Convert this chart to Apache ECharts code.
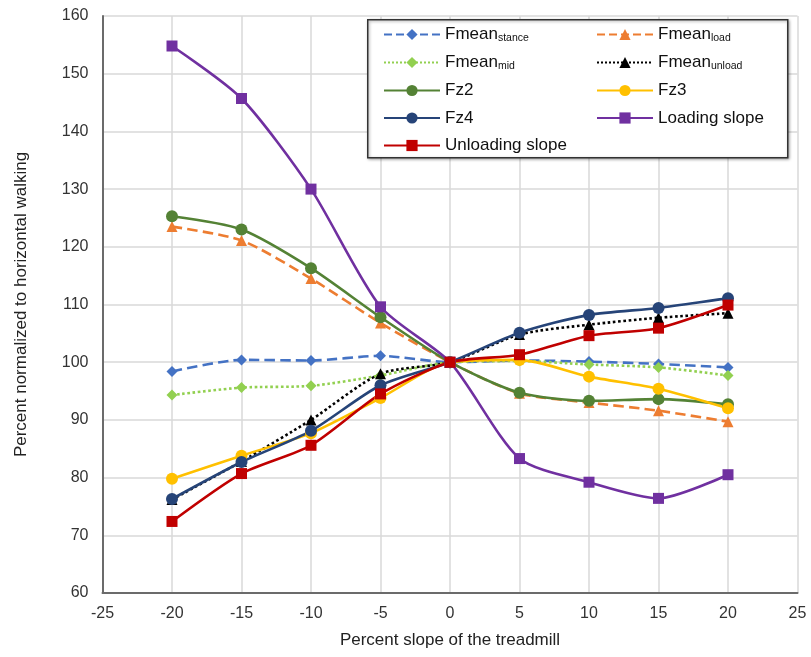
<!DOCTYPE html>
<html><head><meta charset="utf-8">
<script src="https://cdn.jsdelivr.net/npm/echarts@6/dist/echarts.min.js"></script>
<style>html,body{margin:0;padding:0;background:#fff}#c{width:811px;height:657px}</style>
</head><body><div id="c"></div>
<script>
const slopes = [-20, -15, -10, -5, 0, 5, 10, 15, 20];
const fmeanStance = [98.4, 100.4, 100.3, 101.1, 100, 100.3, 100.1, 99.7, 99.1];
const fmeanLoad = [123.5, 121.1, 114.5, 106.8, 100, 94.6, 93.0, 91.6, 89.7];
const fmeanMid = [94.3, 95.6, 95.9, 97.7, 100, 100.2, 99.6, 99.1, 97.7];
const fmeanUnload = [76.2, 82.8, 90.0, 98.0, 100, 104.8, 106.5, 107.7, 108.5];
const fz2 = [125.3, 123.0, 116.3, 107.8, 100, 94.7, 93.3, 93.6, 92.7];
const fz3 = [79.8, 83.8, 87.7, 93.8, 100, 100.4, 97.5, 95.4, 92.0];
const fz4 = [76.3, 82.7, 88.1, 96.0, 100, 105.1, 108.2, 109.4, 111.1];
const loadingSlope = [154.8, 145.7, 130.0, 109.6, 100, 83.3, 79.2, 76.4, 80.5];
const unloadingSlope = [72.4, 80.7, 85.6, 94.5, 100, 101.3, 104.6, 105.9, 109.9];
const xTicks = [-25, -20, -15, -10, -5, 0, 5, 10, 15, 20, 25];
const yTicks = [60, 70, 80, 90, 100, 110, 120, 130, 140, 150, 160];

const seriesDefs = [
  {name: 'Fmean_stance', data: fmeanStance, color: '#4472C4', type: 'dashed', symbol: 'diamond', size: 11},
  {name: 'Fmean_load', data: fmeanLoad, color: '#ED7D31', type: 'dashed', symbol: 'triangle', size: 11},
  {name: 'Fmean_mid', data: fmeanMid, color: '#92D050', type: 'dotted', symbol: 'diamond', size: 11},
  {name: 'Fmean_unload', data: fmeanUnload, color: '#000000', type: 'dotted', symbol: 'triangle', size: 11},
  {name: 'Fz2', data: fz2, color: '#548235', type: 'solid', symbol: 'circle', size: 12},
  {name: 'Fz3', data: fz3, color: '#FFC000', type: 'solid', symbol: 'circle', size: 12},
  {name: 'Fz4', data: fz4, color: '#264478', type: 'solid', symbol: 'circle', size: 12},
  {name: 'Loading slope', data: loadingSlope, color: '#7030A0', type: 'solid', symbol: 'rect', size: 11},
  {name: 'Unloading slope', data: unloadingSlope, color: '#C00000', type: 'solid', symbol: 'rect', size: 11}
];

const series = seriesDefs.map(d => ({
  name: d.name, type: 'line', smooth: 0.25,
  data: slopes.map((x, i) => [x, d.data[i]]),
  symbol: d.symbol, symbolSize: d.size,
  lineStyle: {color: d.color, width: 2.6, type: d.type},
  itemStyle: {color: d.color},
  z: 2
}));

function fmtName(n) {
  const i = n.indexOf('_');
  if (i < 0) return '{a|' + n + '}';
  return '{a|' + n.slice(0, i) + '}{s|' + n.slice(i + 1) + '}';
}
const FF = 'Liberation Sans, Arial, sans-serif';
const legendText = {
  color: '#111', fontFamily: FF, fontSize: 17,
  rich: {
    a: {fontSize: 17, color: '#111', fontFamily: FF, height: 18, verticalAlign: 'bottom'},
    s: {fontSize: 10.5, color: '#111', fontFamily: FF, verticalAlign: 'bottom', padding: [6, 0, 0, 0]}
  }
};
const legendCommon = {
  orient: 'vertical', itemWidth: 56, itemHeight: 14, itemGap: 10.5, z: 10,
  textStyle: legendText, formatter: fmtName, selectedMode: false
};

const chart = echarts.init(document.getElementById('c'));
chart.setOption({
  animation: false,
  backgroundColor: '#fff',
  grid: {left: 102.5, right: 13.5, top: 16, bottom: 64},
  xAxis: {
    type: 'value', min: -25, max: 25, interval: 5,
    name: 'Percent slope of the treadmill', nameLocation: 'middle', nameGap: 39,
    nameTextStyle: {fontSize: 17, color: '#222', fontFamily: FF},
    axisLine: {show: true, onZero: false, lineStyle: {color: '#6b6b6b', width: 2}},
    axisTick: {show: false},
    axisLabel: {fontSize: 16, color: '#333', margin: 13, fontFamily: FF,
      formatter: v => xTicks.includes(v) ? String(v) : ''},
    splitLine: {show: true, lineStyle: {color: '#d9d9d9', width: 1.5}}
  },
  yAxis: {
    type: 'value', min: 60, max: 160, interval: 10,
    name: 'Percent normalized to horizontal walking', nameLocation: 'middle', nameGap: 73,
    nameTextStyle: {fontSize: 17, color: '#222', fontFamily: FF},
    axisLine: {show: true, onZero: false, lineStyle: {color: '#6b6b6b', width: 2}},
    axisTick: {show: false},
    axisLabel: {fontSize: 16, color: '#333', margin: 14, fontFamily: FF,
      formatter: v => yTicks.includes(v) ? String(v) : ''},
    splitLine: {show: true, lineStyle: {color: '#d9d9d9', width: 1.5}}
  },
  legend: [
    Object.assign({left: 378, top: 21, data: ['Fmean_stance', 'Fmean_mid', 'Fz2', 'Fz4', 'Unloading slope']}, legendCommon),
    Object.assign({left: 591, top: 21, data: ['Fmean_load', 'Fmean_unload', 'Fz3', 'Loading slope']}, legendCommon)
  ],
  graphic: [{
    type: 'rect', left: 367, top: 19, z: 8,
    shape: {width: 420, height: 138},
    style: {fill: '#fff', stroke: '#333', lineWidth: 1.5, shadowBlur: 3, shadowColor: 'rgba(0,0,0,0.35)', shadowOffsetX: 1, shadowOffsetY: 1}
  }],
  series: series
});
</script></body></html>
